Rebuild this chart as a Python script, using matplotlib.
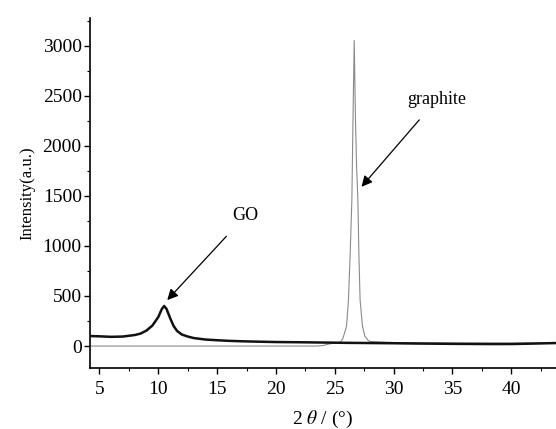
import matplotlib
matplotlib.use("Agg")
import matplotlib.pyplot as plt
from matplotlib.ticker import MultipleLocator

plt.rcParams['font.family'] = ['Liberation Serif', 'DejaVu Serif']
plt.rcParams['mathtext.fontset'] = 'stix'

# GO curve (black)
go_x = [4.2, 5, 6, 7, 8, 8.5, 9, 9.5, 10, 10.3, 10.5, 10.7, 11, 11.3, 11.6,
        12, 12.5, 13, 14, 15, 16, 17, 18, 20, 22, 24, 26, 28, 30, 32, 35,
        38, 40, 42, 43.8]
go_y = [100, 97, 92, 95, 110, 125, 155, 205, 290, 370, 400, 370, 280, 200, 150,
        115, 95, 80, 65, 58, 52, 48, 45, 40, 38, 35, 32, 30, 28, 25, 22,
        20, 20, 25, 30]

# graphite curve (grey)
gr_x = [4.2, 10, 15, 20, 23.5, 24, 24.5, 25, 25.5, 25.7, 26.0, 26.16, 26.3,
        26.45, 26.55, 26.65, 26.75, 26.85, 26.96, 27.05, 27.15, 27.35, 27.55,
        27.8, 28, 30, 35, 40, 43.8]
gr_y = [0, 0, 0, 0, 0, 5, 20, 30, 40, 80, 200, 460, 900,
        1460, 2300, 3050, 2300, 1800, 1460, 900, 460, 200, 100,
        60, 45, 35, 30, 30, 32]

fig = plt.figure(figsize=(5.56, 4.29), dpi=100)
ax = fig.add_axes([0.162, 0.142, 0.838, 0.816])

ax.plot(gr_x, gr_y, color='#8a8a8a', lw=0.8)
ax.plot(go_x, go_y, color='#111111', lw=1.8)

ax.set_xlim(4.2, 43.8)
ax.set_ylim(-220, 3275)
ax.xaxis.set_major_locator(MultipleLocator(5))
ax.xaxis.set_minor_locator(MultipleLocator(2.5))
ax.yaxis.set_major_locator(MultipleLocator(500))
ax.yaxis.set_minor_locator(MultipleLocator(250))
ax.tick_params(which='major', direction='out', length=4, width=1, labelsize=14, pad=2)
ax.tick_params(axis='x', which='major', pad=5)
ax.tick_params(which='minor', direction='out', length=2.5, width=0.8)
for s in ['top', 'right']:
    ax.spines[s].set_visible(False)
for s in ['left', 'bottom']:
    ax.spines[s].set_linewidth(1.2)

ax.set_ylabel('Intensity(a.u.)', fontsize=12, labelpad=5)
ax.set_xlabel(r'2 $\theta$ / (°)', fontsize=14, labelpad=8)

ax.annotate('GO', xy=(10.76, 459), xytext=(17.4, 1300), fontsize=13,
            ha='center', va='center',
            arrowprops=dict(arrowstyle='-|>', color='black', lw=0.9,
                            mutation_scale=16, shrinkA=9, shrinkB=0))
ax.annotate('graphite', xy=(27.27, 1590), xytext=(33.7, 2465), fontsize=13,
            ha='center', va='center',
            arrowprops=dict(arrowstyle='-|>', color='black', lw=0.9,
                            mutation_scale=16, shrinkA=9, shrinkB=0))

fig.savefig('out.png', dpi=100)
